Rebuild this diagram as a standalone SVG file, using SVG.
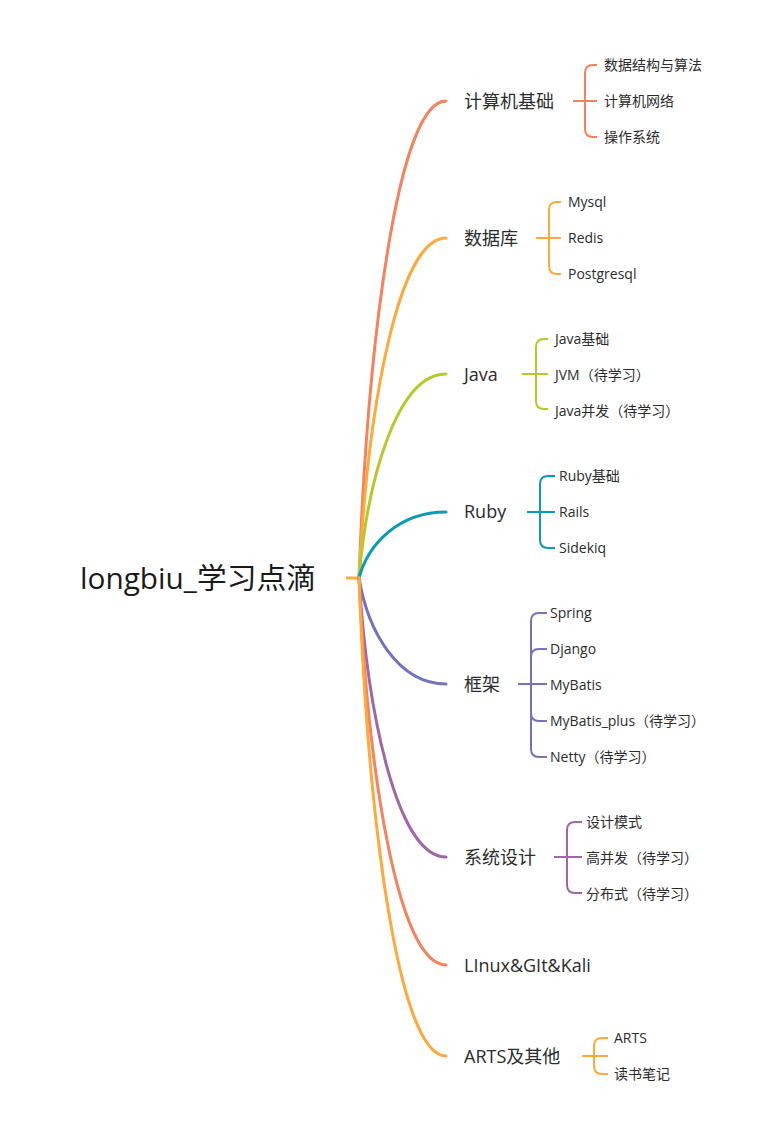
<svg xmlns="http://www.w3.org/2000/svg" width="759" height="1139" viewBox="0 0 759 1139">
<style>
text{font-family:"Open Sans","Noto Sans CJK SC",sans-serif;fill:#2b2b2b}
.root{font-size:29px;fill:#1a1a1a}
.b{font-size:18px}
.c{font-size:14px}
.cv{fill:none;stroke-width:3;stroke-linecap:round}
.br{fill:none;stroke-width:2}
.coral{stroke:#F5825C}
.orange{stroke:#FDAA3A}
.lime{stroke:#B5C929}
.teal{stroke:#0A9AB8}
.indigo{stroke:#7571BE}
.purple{stroke:#A066AA}
</style>
<rect width="759" height="1139" fill="#fff"/>
<g id="connectors">
<path class="orange" fill="none" stroke-width="3" d="M346,578 H361"/>
<path class="cv coral" d="M359,578 C367.7,339.5 398,101 446,101"/>
<path class="cv orange" d="M359,578 C367.7,408 398,238 446,238"/>
<path class="cv lime" d="M359,578 C367.7,476 398,374 446,374"/>
<path class="cv teal" d="M359,578 C367.7,545 398,512 446,512"/>
<path class="cv indigo" d="M359,578 C367.7,631 398,684 446,684"/>
<path class="cv purple" d="M359,578 C367.7,717.5 398,857 446,857"/>
<path class="cv coral" d="M359,578 C367.7,771.5 398,965 446,965"/>
<path class="cv orange" d="M359,578 C367.7,817 398,1056 446,1056"/>
<path class="br coral" d="M573,101 H597 M597,65 H593 Q585,65 585,73 V129 Q585,137 593,137 H597"/>
<path class="br orange" d="M536,238 H561 M561,202 H557 Q549,202 549,210 V266 Q549,274 557,274 H561"/>
<path class="br lime" d="M522,374 H548 M548,339 H544 Q536,339 536,347 V401 Q536,409 544,409 H548"/>
<path class="br teal" d="M527,512 H555 M555,476 H548 Q540,476 540,484 V540 Q540,548 548,548 H555"/>
<path class="br indigo" d="M518,684 H547 M547,613 H539 Q531,613 531,621 V749 Q531,757 539,757 H547 M547,649 H539 Q531,649 531,657 M547,721 H539 Q531,721 531,713"/>
<path class="br purple" d="M554,857 H582 M582,822 H575 Q567,822 567,830 V885 Q567,893 575,893 H582"/>
<path class="br orange" d="M582,1056 H608 M608,1038 H602 Q594,1038 594,1046 V1066 Q594,1074 602,1074 H608"/>
</g>
<g id="root"><text class="root" x="80" y="589" textLength="236" lengthAdjust="spacingAndGlyphs">longbiu_学习点滴</text></g>
<g id="n1">
<text class="b" x="464" y="107.5">计算机基础</text>
<text class="c" x="604" y="70">数据结构与算法</text>
<text class="c" x="604" y="106">计算机网络</text>
<text class="c" x="604" y="142">操作系统</text>
</g>
<g id="n2">
<text class="b" x="464" y="244.5">数据库</text>
<text class="c" x="568" y="207">Mysql</text>
<text class="c" x="568" y="243">Redis</text>
<text class="c" x="568" y="279">Postgresql</text>
</g>
<g id="n3">
<text class="b" x="464" y="381">Java</text>
<text class="c" x="555" y="344">Java基础</text>
<text class="c" x="555" y="380">JVM（待学习）</text>
<text class="c" x="555" y="416">Java并发（待学习）</text>
</g>
<g id="n4">
<text class="b" x="464" y="518">Ruby</text>
<text class="c" x="559" y="481">Ruby基础</text>
<text class="c" x="559" y="517">Rails</text>
<text class="c" x="559" y="553">Sidekiq</text>
</g>
<g id="n5">
<text class="b" x="464" y="690.5">框架</text>
<text class="c" x="550" y="618">Spring</text>
<text class="c" x="550" y="654">Django</text>
<text class="c" x="550" y="690">MyBatis</text>
<text class="c" x="550" y="726">MyBatis_plus（待学习）</text>
<text class="c" x="550" y="762">Netty（待学习）</text>
</g>
<g id="n6">
<text class="b" x="464" y="863.5">系统设计</text>
<text class="c" x="586" y="827">设计模式</text>
<text class="c" x="586" y="863">高并发（待学习）</text>
<text class="c" x="586" y="899">分布式（待学习）</text>
</g>
<g id="n7">
<text class="b" x="464" y="971.5">LInux&amp;GIt&amp;Kali</text>
</g>
<g id="n8">
<text class="b" x="464" y="1062.5">ARTS及其他</text>
<text class="c" x="614" y="1043">ARTS</text>
<text class="c" x="614" y="1079">读书笔记</text>
</g>
</svg>
